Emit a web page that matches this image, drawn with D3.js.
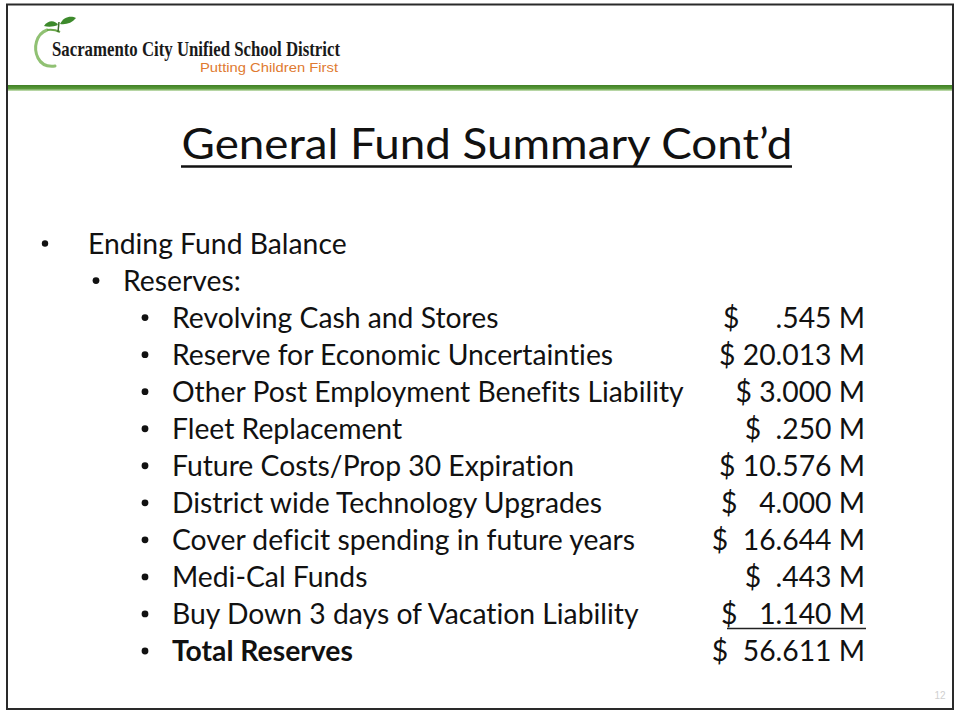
<!DOCTYPE html>
<html><head><meta charset="utf-8">
<script src="https://cdn.jsdelivr.net/npm/d3@7"></script>
<style>html,body{margin:0;padding:0;background:#fff;} svg{display:block;} text{font-variant-ligatures:none;font-feature-settings:"liga" 0;}</style>
</head><body>
<script>
// ---- data ----
const orgName = "Sacramento City Unified School District";
const orgTagline = "Putting Children First";
const title = "General Fund Summary Cont\u2019d";
const headingLevel1 = "Ending Fund Balance";
const headingLevel2 = "Reserves:";
const categories = [
  "Revolving Cash and Stores",
  "Reserve for Economic Uncertainties",
  "Other Post Employment Benefits Liability",
  "Fleet Replacement",
  "Future Costs/Prop 30 Expiration",
  "District wide Technology Upgrades",
  "Cover deficit spending in future years",
  "Medi-Cal Funds",
  "Buy Down 3 days of Vacation Liability",
  "Total Reserves"
];
const values = [0.545, 20.013, 3.000, 0.250, 10.576, 4.000, 16.644, 0.443, 1.140, 56.611]; // $ millions
const dollarGaps = [5, 1, 1, 2, 1, 3, 2, 2, 3, 2]; // spaces between "$" and the figure, as typed on the slide
const pageNumber = "12";

// ---- drawing ----
const W = 955, H = 713;
const svg = d3.select("body").append("svg").attr("width", W).attr("height", H);

// slide frame
svg.append("rect").attr("x", 7).attr("y", 4.5).attr("width", 946).attr("height", 704.5)
  .attr("fill", "#fff").attr("stroke", "#2a2a2a").attr("stroke-width", 2);

// green header rule
const grad = svg.append("defs").append("linearGradient").attr("id", "rule").attr("x1", 0).attr("x2", 0).attr("y1", 0).attr("y2", 1);
grad.append("stop").attr("offset", "0%").attr("stop-color", "#3f7f25");
grad.append("stop").attr("offset", "60%").attr("stop-color", "#5a9a3a");
grad.append("stop").attr("offset", "100%").attr("stop-color", "#cfe5bf");
svg.append("rect").attr("x", 8).attr("y", 85).attr("width", 944).attr("height", 6).attr("fill", "url(#rule)");

// logo: apple outline + leaves
const logo = svg.append("g");
logo.append("path").attr("d", "M47,30 C36,34 33,48 38,58 C41,64 47,67 55,66")
  .attr("fill", "none").attr("stroke", "#7cb65a").attr("stroke-width", 3).attr("stroke-linecap", "round").attr("opacity", 0.85);
logo.append("path").attr("d", "M47,30 C52,29 56,30 60,32").attr("fill", "none").attr("stroke", "#6aa84a").attr("stroke-width", 2);
logo.append("path").attr("d", "M44,26 C48,20 55,20 58,25 C53,27 48,27 44,26 Z").attr("fill", "#3d8a2c");
logo.append("path").attr("d", "M60,24 C63,17 71,15 76,18 C72,23 66,25 60,24 Z").attr("fill", "#3d8a2c");
logo.append("path").attr("d", "M58,32 L59,22").attr("stroke", "#3d6a2c").attr("stroke-width", 1.5);

svg.append("text").attr("x", 52).attr("y", 55.5)
  .attr("font-family", "Liberation Serif, serif").attr("font-weight", "bold").attr("font-size", 21.5)
  .attr("textLength", 288).attr("lengthAdjust", "spacingAndGlyphs").attr("fill", "#1a1a1a").text(orgName);
svg.append("text").attr("x", 200).attr("y", 72)
  .attr("font-family", "Liberation Sans, Arial, sans-serif").attr("font-size", 13.5)
  .attr("textLength", 138).attr("lengthAdjust", "spacingAndGlyphs").attr("fill", "#e07a30").text(orgTagline);

// title
const bodyFont = "Lato, 'Open Sans', sans-serif";
svg.append("text").attr("x", 487).attr("y", 159).attr("text-anchor", "middle")
  .attr("font-family", bodyFont).attr("font-size", 42.5).attr("fill", "#111")
  .attr("textLength", 611).attr("lengthAdjust", "spacingAndGlyphs").text(title);
svg.append("line").attr("x1", 181).attr("x2", 792).attr("y1", 166.5).attr("y2", 166.5)
  .attr("stroke", "#111").attr("stroke-width", 2.5);

// rows
const rows = [
  {level: 1, label: headingLevel1},
  {level: 2, label: headingLevel2}
].concat(categories.map((c, i) => ({level: 3, label: c, value: values[i], gap: dollarGaps[i], bold: i === categories.length - 1})));

const y = d3.scaleLinear().domain([0, rows.length - 1]).range([253.5, 661]);
const textX = {1: 88, 2: 123, 3: 172};
const bulletX = {1: 45, 2: 96, 3: 145};
const fmt = v => d3.format(".3f")(v).replace(/^0\./, ".");

const g = svg.append("g").attr("font-family", bodyFont).attr("font-size", 28.3).attr("fill", "#111");
rows.forEach((r, i) => {
  g.append("circle").attr("cx", bulletX[r.level]).attr("cy", y(i) - 10).attr("r", r.level === 1 ? 3.2 : 3.4).attr("fill", "#111");
  g.append("text").attr("x", textX[r.level]).attr("y", y(i))
    .attr("font-weight", r.bold ? "bold" : null).text(r.label);
  if (r.value !== undefined) {
    g.append("text").attr("x", 865).attr("y", y(i)).attr("text-anchor", "end")
      .style("white-space", "pre").text("$" + " ".repeat(r.gap) + fmt(r.value) + " M");
  }
});
// underline under the last addend
const lastAddend = categories.length - 2 + 2;
svg.append("line").attr("x1", 727).attr("x2", 866).attr("y1", y(lastAddend) + 4.5).attr("y2", y(lastAddend) + 4.5)
  .attr("stroke", "#222").attr("stroke-width", 1.6);

// page number
svg.append("text").attr("x", 940).attr("y", 699).attr("text-anchor", "middle")
  .attr("font-family", "Liberation Sans, sans-serif").attr("font-size", 10).attr("fill", "#d0d0d0").text(pageNumber);
</script>
</body></html>
